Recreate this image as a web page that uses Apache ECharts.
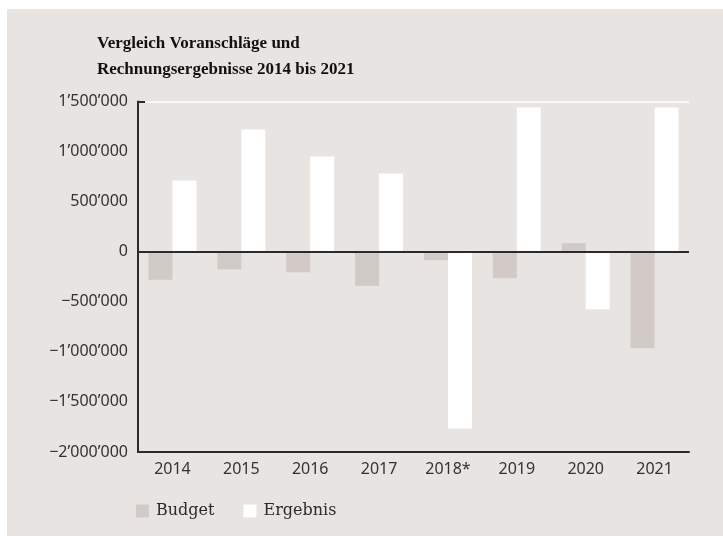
<!DOCTYPE html>
<html>
<head>
<meta charset="utf-8">
<script src="https://cdn.jsdelivr.net/npm/echarts@6/dist/echarts.min.js"></script>
<style>
  body { margin: 0; background: #fff; }
  #chart { position: absolute; left: 7px; top: 9px; width: 716px; height: 527px; }
</style>
</head>
<body>
<div id="chart"></div>
<script>
const years = ['2014', '2015', '2016', '2017', '2018*', '2019', '2020', '2021'];
const budget = [-280000, -175000, -205000, -340000, -85000, -265000, 85000, -965000];
const ergebnis = [710000, 1220000, 950000, 780000, -1765000, 1440000, -575000, 1440000];

const BG = '#e7e4e1';
const BUDGET_COLOR = '#d2cac7';
const INK = '#2b2b2b';

// 1'500'000 style, with a real minus sign
function fmt(v) {
  const s = Math.abs(v).toString().replace(/\B(?=(\d{3})+(?!\d))/g, '\u2019');
  return (v < 0 ? '\u2212' : '') + s;
}

const chart = echarts.init(document.getElementById('chart'));
chart.setOption({
  animation: false,
  backgroundColor: BG,
  title: {
    text: 'Vergleich Voranschläge und\nRechnungsergebnisse 2014 bis 2021',
    left: 90,
    top: 22,
    padding: 0,
    textStyle: {
      fontFamily: 'Liberation Serif',
      fontWeight: 'bold',
      fontSize: 17,
      lineHeight: 26,
      color: '#111'
    }
  },
  legend: {
    left: 129,
    top: 494,
    padding: 0,
    itemWidth: 13,
    itemHeight: 13,
    itemGap: 29,
    icon: 'rect',
    textStyle: { fontFamily: 'DejaVu Serif', fontSize: 16, color: INK, padding: [0, 0, 0, 2] },
    data: ['Budget', 'Ergebnis']
  },
  grid: { left: 131, right: 34, top: 92.5, bottom: 84, containLabel: false },
  xAxis: {
    type: 'category',
    data: years,
    axisLine: { onZero: false, lineStyle: { color: INK, width: 2 } },
    axisTick: { show: false },
    axisLabel: { margin: 9, fontFamily: 'Noto Sans', fontSize: 16, color: '#333' },
    splitLine: { show: false }
  },
  yAxis: {
    type: 'value',
    min: -2000000,
    max: 1500000,
    interval: 500000,
    axisLine: { show: true, lineStyle: { color: INK, width: 2 } },
    axisTick: { show: true, inside: true, length: 7, customValues: [1500000], lineStyle: { color: INK, width: 2 } },
    axisLabel: { margin: 10, fontFamily: 'Noto Sans', fontSize: 16, color: '#333', formatter: fmt },
    splitLine: { show: true, lineStyle: { color: '#ffffff', width: 1.5 } }
  },
  series: [
    {
      name: 'Budget',
      type: 'bar',
      data: budget,
      barWidth: 24,
      barGap: '0%',
      itemStyle: { color: BUDGET_COLOR },
      markLine: {
        silent: true,
        symbol: 'none',
        label: { show: false },
        lineStyle: { color: INK, width: 2, type: 'solid' },
        data: [{ yAxis: 0 }]
      }
    },
    {
      name: 'Ergebnis',
      type: 'bar',
      data: ergebnis,
      barWidth: 24,
      itemStyle: { color: '#ffffff' }
    }
  ]
});
</script>
</body>
</html>
